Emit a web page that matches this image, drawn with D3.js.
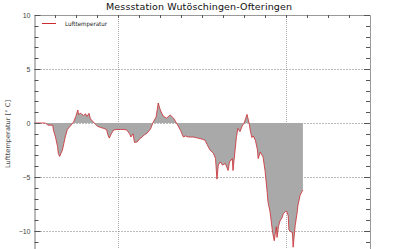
<!DOCTYPE html>
<html><head><meta charset="utf-8">
<script src="https://cdn.jsdelivr.net/npm/d3@7"></script>
<style>body{margin:0;background:#fff}svg{display:block}</style>
</head><body>
<script>
const title = "Messstation Wutöschingen-Ofteringen";
const yLabel = "Lufttemperatur [° C]";
const seriesName = "Lufttemperatur";
// hours since start of period
const hours = [0,1.6,1.9,2.6,2.7,3.0,3.3,3.4,3.6,3.8,4.0,4.2,4.4,4.7,5.1,5.6,5.9,6.2,6.3,6.6,7.0,7.3,7.5,7.8,8.0,8.2,8.7,9.0,9.4,9.9,10.3,10.5,10.7,11.0,11.3,11.8,12.3,12.8,13.2,13.6,13.8,14.1,14.3,14.7,15.0,15.4,15.7,16.1,16.6,17.0,17.4,17.7,18.0,18.4,18.9,19.4,19.9,20.4,20.9,21.3,21.6,22.0,22.7,23.4,24.0,24.4,24.7,25.1,25.6,25.9,26.1,26.3,26.6,26.9,27.3,27.7,27.9,28.3,28.4,28.7,28.9,29.1,29.4,29.7,30.0,30.4,30.7,30.9,31.1,31.3,31.6,31.9,32.0,32.3,32.7,33.0,33.3,33.4,33.7,34.0,34.1,34.3,34.6,34.7,34.9,35.1,35.4,35.6,35.9,36.1,36.3,36.4,36.7,36.9,37.0,37.3,37.6,37.7,38.0,38.3,38.4];
const temps = [0,0,-0.2,-0.2,-0.65,-1.3,-2.2,-2.8,-3.1,-2.8,-2.5,-1.9,-1.3,-0.6,-0.3,0.1,0.6,1.2,0.8,0.9,0.7,0.85,0.6,0.9,0.4,0.25,-0.1,-0.3,-0.4,-0.5,-0.6,-1.1,-1.4,-1.0,-0.65,-0.6,-0.6,-0.6,-0.65,-1.0,-1.3,-1.0,-1.8,-1.75,-1.5,-1.3,-1.1,-0.95,-0.55,0.1,0.55,1.85,1.2,0.65,0.45,0.75,0.45,-0.1,-0.7,-1.3,-1.2,-1.3,-1.3,-1.4,-1.5,-1.6,-2.0,-2.5,-2.8,-3.3,-5.2,-3.9,-3.6,-3.9,-3.75,-4.4,-3.6,-3.3,-4.4,-2.5,-1.25,-0.5,-0.8,-0.3,0.0,0.8,0.0,-0.8,-1.35,-1.2,-1.6,-2.5,-3.3,-2.7,-3.15,-4.5,-6.5,-7.3,-8.25,-9.8,-10.25,-10.9,-9.6,-10.6,-9.6,-9.1,-8.8,-8.4,-8.2,-8.2,-8.6,-9.9,-10.1,-10.1,-11.5,-9.5,-8.2,-7.6,-6.7,-6.3,-6.2];
const yTickLabels = [10,5,0,-5,-10];
const xDomain = [0,48];
const yDomain = [-12,10];
const xTickStep = 3;
const xGridHours = [12,36];
const yGrid = [5,0,-5,-10];

const W=400,H=249;
const svg=d3.select("body").append("svg").attr("width",W).attr("height",H);
const x=d3.scaleLinear().domain(xDomain).range([34.5,370]);
const y=d3.scaleLinear().domain(yDomain).range([252.6,15]);
const data=hours.map((h,i)=>({h,t:temps[i]}));

// grid
svg.append("g").selectAll("line").data(xGridHours).join("line")
 .attr("x1",d=>Math.round(x(d))+0.5).attr("x2",d=>Math.round(x(d))+0.5).attr("y1",y(10)).attr("y2",H)
 .attr("stroke","#aaa").attr("stroke-width",1).attr("stroke-dasharray","1,1");
svg.append("g").selectAll("line").data(yGrid).join("line")
 .attr("x1",x(0)).attr("x2",x(48)).attr("y1",d=>Math.round(y(d))+0.5).attr("y2",d=>Math.round(y(d))+0.5)
 .attr("stroke","#777").attr("stroke-width",1).attr("stroke-dasharray","1,2");

// area
svg.append("path").datum(data)
 .attr("d",d3.area().x(d=>x(d.h)).y0(y(0)).y1(d=>y(d.t)))
 .attr("fill","#a9a9a9");
svg.append("path").datum(data)
 .attr("d",d3.line().x(d=>x(d.h)).y(d=>y(d.t)))
 .attr("fill","none").attr("stroke","#cc2a30").attr("stroke-width",0.8);

// frame axes
const ax=svg.append("g").attr("font-family","DejaVu Sans, sans-serif");
const left=d3.axisLeft(y).tickValues(yTickLabels).tickSize(0).tickPadding(4).tickFormat(d=>d<0?"\u2212"+Math.abs(d):d);
const gl=ax.append("g").attr("transform","translate("+x(0)+",0)").call(left);
gl.select(".domain").attr("stroke","#777");
gl.selectAll("text").attr("font-size",7).attr("fill","#444");
const gr=ax.append("g").attr("transform","translate("+x(48)+",0)").call(d3.axisRight(y).tickValues([]).tickSize(0));
gr.select(".domain").attr("stroke","#999");
const gt=ax.append("g").attr("transform","translate(0,"+y(10)+")").call(d3.axisTop(x).tickValues([]).tickSize(0));
gt.select(".domain").attr("stroke","#999");

const minor=d3.range(-12,11,1);
svg.append("g").selectAll("line").data(minor).join("line")
 .attr("x1",x(0)).attr("x2",d=>x(0)+(d%5===0?6:4)).attr("y1",d=>Math.round(y(d))+0.5).attr("y2",d=>Math.round(y(d))+0.5)
 .attr("stroke","#555");
svg.append("g").selectAll("line").data(minor).join("line")
 .attr("x1",x(48)).attr("x2",d=>x(48)-(d%5===0?6:4)).attr("y1",d=>Math.round(y(d))+0.5).attr("y2",d=>Math.round(y(d))+0.5)
 .attr("stroke","#555");
svg.append("g").selectAll("line").data(d3.range(xTickStep,48,xTickStep)).join("line")
 .attr("x1",d=>Math.round(x(d))+0.5).attr("x2",d=>Math.round(x(d))+0.5).attr("y1",y(10)).attr("y2",y(10)+3)
 .attr("stroke","#555");

// legend
svg.append("line").attr("x1",42).attr("x2",56).attr("y1",23.5).attr("y2",23.5).attr("stroke","#cc2a30");
svg.append("text").attr("x",65).attr("y",25.5).attr("font-family","DejaVu Sans, sans-serif").attr("font-size",6)
 .attr("textLength",42).attr("lengthAdjust","spacingAndGlyphs").attr("fill","#222").text(seriesName);

// title
svg.append("text").attr("x",106).attr("y",10).attr("font-family","DejaVu Sans, sans-serif").attr("font-size",9.5)
 .attr("textLength",186).attr("lengthAdjust","spacing").attr("fill","#111").text(title);
// y label
svg.append("text").attr("transform","translate(10,134) rotate(-90)").attr("text-anchor","middle")
 .attr("font-family","DejaVu Sans, sans-serif").attr("font-size",6.5).attr("fill","#444")
 .attr("textLength",68).attr("lengthAdjust","spacing").text(yLabel);
</script>
</body></html>
